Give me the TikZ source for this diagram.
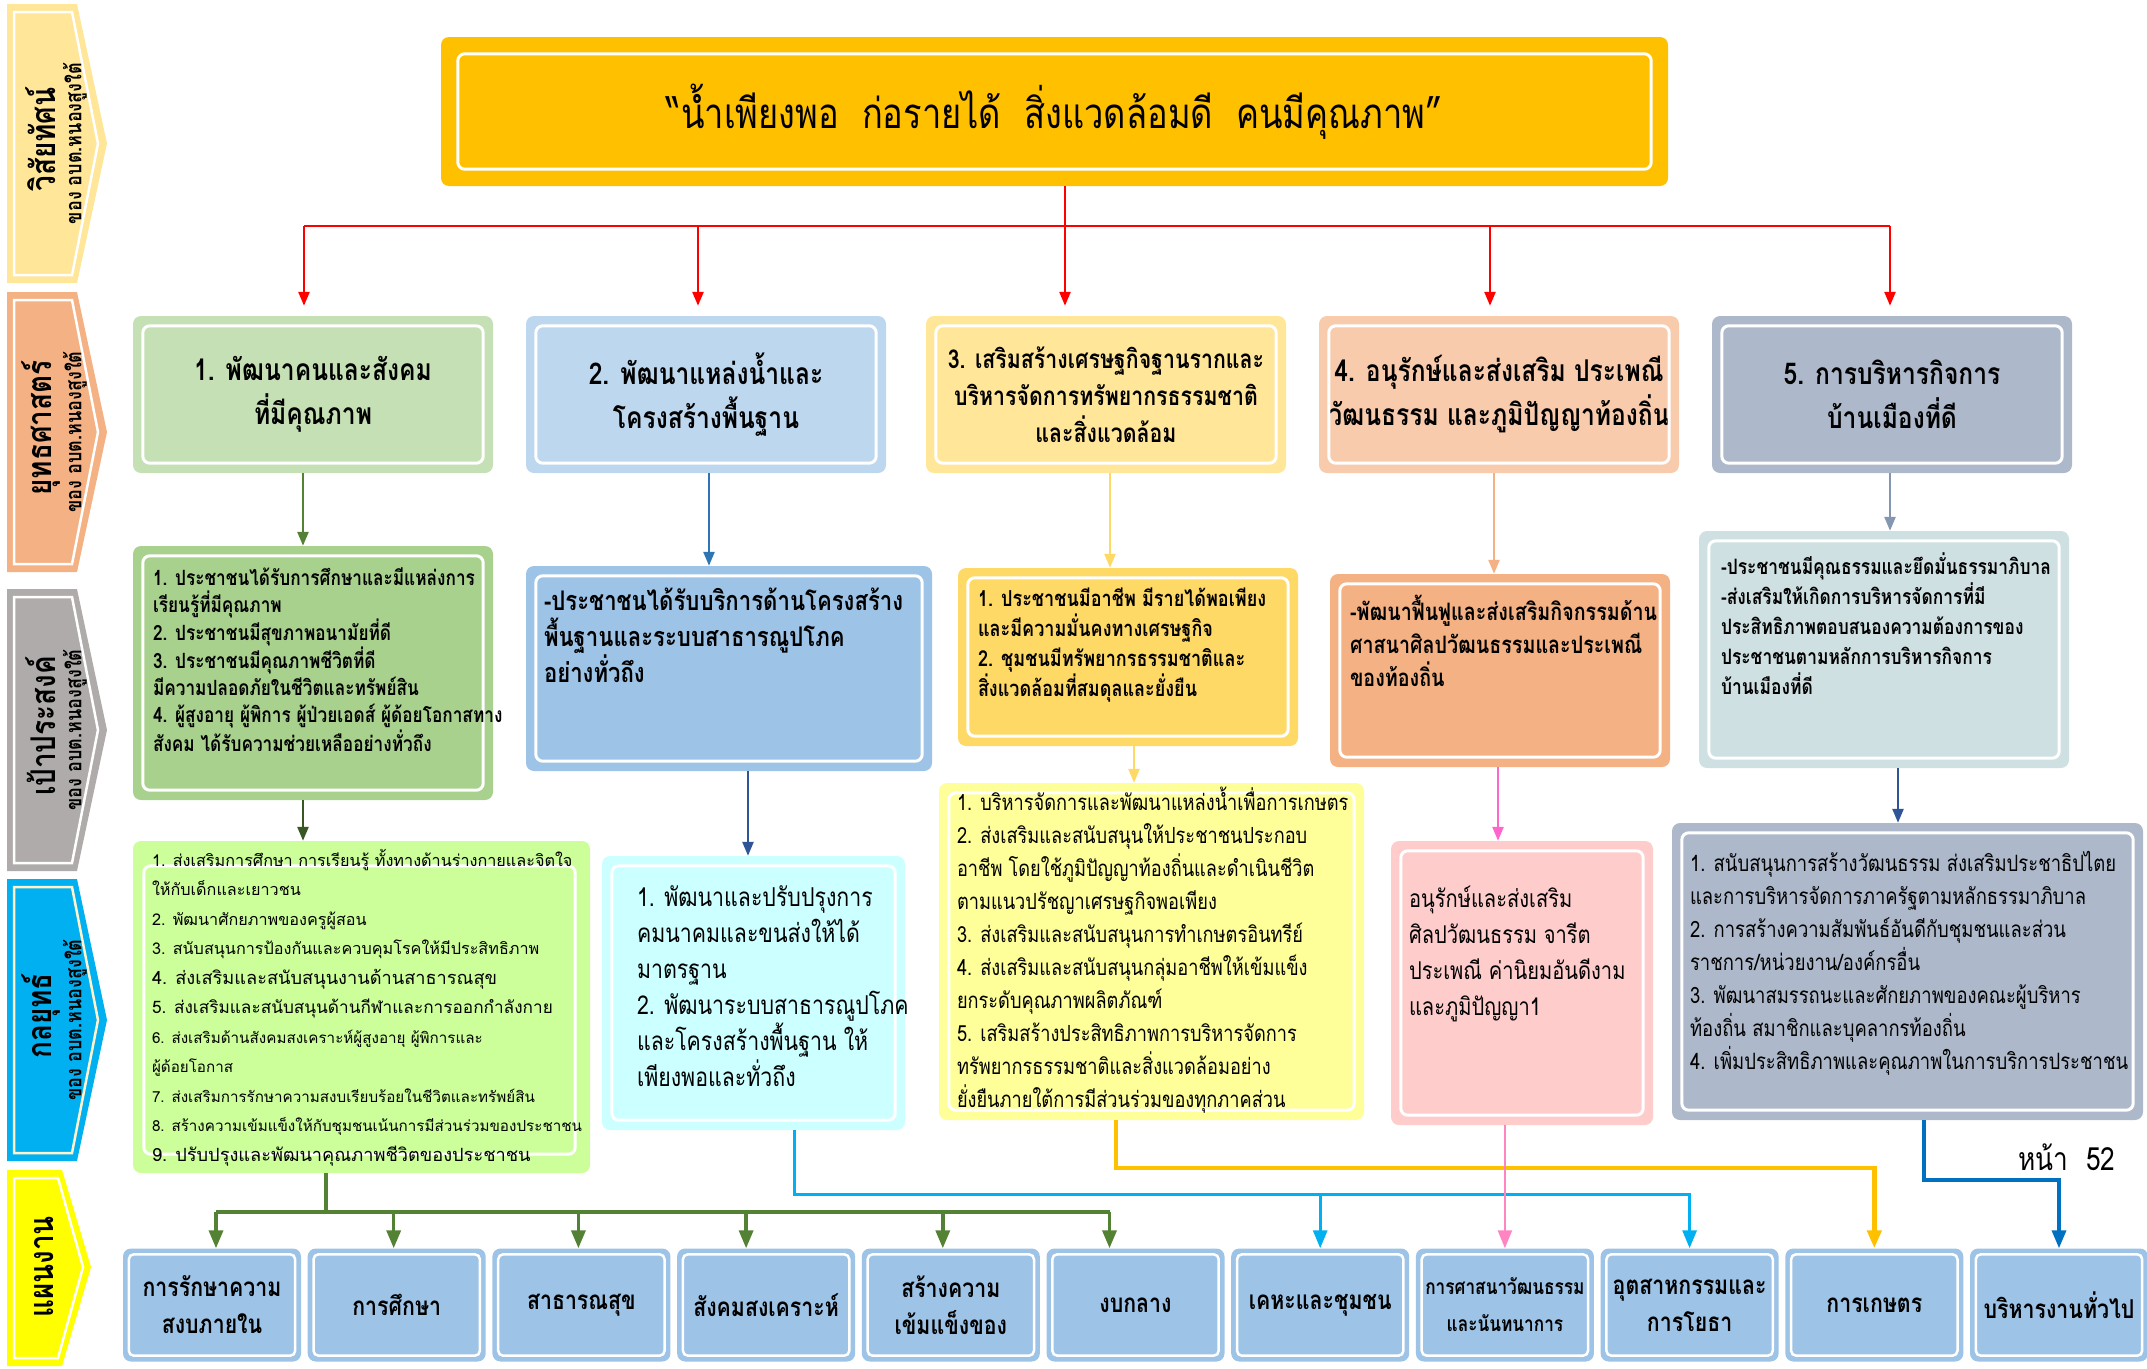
\documentclass[tikz,border=0pt]{standalone}
\usepackage{fontspec}
\setmainfont[Script=Thai]{Loma}
\newfontfamily\thainarrow[Script=Thai,FakeStretch=0.82]{Loma}
\usetikzlibrary{arrows.meta}

\definecolor{visionfill}{HTML}{FFC000}
\definecolor{tabA}{HTML}{FFE699}
\definecolor{tabB}{HTML}{F4B183}
\definecolor{tabC}{HTML}{AFABAB}
\definecolor{tabD}{HTML}{00B0F0}
\definecolor{tabE}{HTML}{FFFF00}
\definecolor{stratA}{HTML}{C5E0B4}
\definecolor{stratB}{HTML}{BDD7EE}
\definecolor{stratC}{HTML}{FFE699}
\definecolor{stratD}{HTML}{F8CBAD}
\definecolor{stratE}{HTML}{ADB9CA}
\definecolor{goalA}{HTML}{A9D18E}
\definecolor{goalB}{HTML}{9DC3E6}
\definecolor{goalC}{HTML}{FFD966}
\definecolor{goalD}{HTML}{F4B183}
\definecolor{goalE}{HTML}{CFE0E3}
\definecolor{tacA}{HTML}{CCFF99}
\definecolor{tacB}{HTML}{CCFFFF}
\definecolor{tacC}{HTML}{FFFF99}
\definecolor{tacD}{HTML}{FFCCCC}
\definecolor{tacE}{HTML}{ADB9CA}
\definecolor{planfill}{HTML}{9DC3E6}
\definecolor{lineA}{HTML}{548235}
\definecolor{lineAdark}{HTML}{385723}
\definecolor{lineB}{HTML}{2E75B6}
\definecolor{lineBdark}{HTML}{2F5597}
\definecolor{lineC}{HTML}{FFD966}
\definecolor{lineD}{HTML}{F4B183}
\definecolor{lineDpink}{HTML}{FF66CC}
\definecolor{lineE}{HTML}{8497B0}
\definecolor{busCyan}{HTML}{00B0F0}
\definecolor{busAmber}{HTML}{FFC000}
\definecolor{busPink}{HTML}{FF85C2}
\definecolor{busBlue}{HTML}{0070C0}
\definecolor{cream}{HTML}{FFF2CC}

\tikzset{
  panel/.style={rectangle, rounded corners=8pt, inner sep=0pt},
  inlay/.style={white, line width=3pt, rounded corners=7pt},
  drop/.style={line width=2.5pt, -{Triangle[length=14pt,width=11pt]}},
  busline/.style={line width=3.5pt},
  busdrop/.style={line width=3.5pt, -{Triangle[length=18pt,width=14pt]}},
  headtxt/.style={font=\thainarrow\bfseries\fontsize{30}{44}\selectfont, align=center},
  boxtxt/.style={inner sep=0pt, anchor=north west, align=left},
  plan/.style={panel, fill=planfill, minimum width=178pt, minimum height=113pt, align=center},
  sidebig/.style={rotate=90, font=\thainarrow\bfseries\fontsize{34}{40}\selectfont},
  sidesmall/.style={rotate=90, font=\thainarrow\bfseries\fontsize{22}{26}\selectfont},
}

\begin{document}
\begin{tikzpicture}[x=1pt, y=-1pt]
    \useasboundingbox (0,0) rectangle (2147,1368);

    % Side tabs
    \foreach \ya/\yb/\col/\rim/\word in {4/283/tabA/white/วิสัยทัศน์, 292/572/tabB/white/ยุทธศาสตร์, 589/871/tabC/white/เป้าประสงค์, 879/1161/tabD/cream/กลยุทธ์}{
        \pgfmathsetmacro\ym{(\ya+\yb)/2}
        \fill[\col] (7,\ya) -- (77,\ya) -- (107,\ym) -- (77,\yb) -- (7,\yb) -- cycle;
        \draw[\rim, line width=2.5pt] (14,\ya+8) -- (72,\ya+8) -- (98,\ym) -- (72,\yb-8) -- (14,\yb-8) -- cycle;
        \node[sidebig] (tab\ya) at (41,\ym-4) {\word};
        \node[sidesmall] (sub\ya) at (75,\ym) {ของ อบต.หนองสูงใต้};
    }
    \fill[tabE] (7,1170) -- (62,1170) -- (91,1267) -- (62,1366) -- (7,1366) -- cycle;
    \draw[white, line width=2.5pt] (14,1178) -- (58,1178) -- (83,1267) -- (58,1358) -- (14,1358) -- cycle;
    \node[sidebig] (tabplan) at (44,1267) {แผนงาน};

    % Vision
    \node[panel, fill=visionfill, minimum width=1227pt, minimum height=149pt,
          font=\thainarrow\fontsize{42}{50}\selectfont] (vision) at (1054.5,111.5)
          {“น้ำเพียงพอ~~ก่อรายได้~~สิ่งแวดล้อมดี~~คนมีคุณภาพ”};

    % Strategies
    \node[panel, fill=stratA, minimum width=360pt, minimum height=157pt, headtxt] (s1) at (313,394.5) {1. พัฒนาคนและสังคม\\ที่มีคุณภาพ};
    \node[panel, fill=stratB, minimum width=360pt, minimum height=157pt, headtxt] (s2) at (706,394.5) {2. พัฒนาแหล่งน้ำและ\\โครงสร้างพื้นฐาน};
    \node[panel, fill=stratC, minimum width=360pt, minimum height=157pt, headtxt,
          font=\thainarrow\bfseries\fontsize{26}{37}\selectfont] (s3) at (1106,394.5) {3. เสริมสร้างเศรษฐกิจฐานรากและ\\บริหารจัดการทรัพยากรธรรมชาติ\\และสิ่งแวดล้อม};
    \node[panel, fill=stratD, minimum width=360pt, minimum height=157pt, headtxt] (s4) at (1499,394.5) {4. อนุรักษ์และส่งเสริม ประเพณี\\วัฒนธรรม และภูมิปัญญาท้องถิ่น};
    \node[panel, fill=stratE, minimum width=360pt, minimum height=157pt, headtxt] (s5) at (1892,394.5) {5. การบริหารกิจการ\\บ้านเมืองที่ดี};

    % Goals
    \node[panel, fill=goalA, minimum width=360pt, minimum height=254pt] (g1) at (313,673) {};
    \node[panel, fill=goalB, minimum width=406pt, minimum height=205pt] (g2) at (729,668.5) {};
    \node[panel, fill=goalC, minimum width=340pt, minimum height=178pt] (g3) at (1128,657) {};
    \node[panel, fill=goalD, minimum width=340pt, minimum height=193pt] (g4) at (1500,670.5) {};
    \node[panel, fill=goalE, minimum width=370pt, minimum height=237pt] (g5) at (1884,649.5) {};

    % Tactics
    \node[panel, fill=tacA, minimum width=457pt, minimum height=332pt] (t1) at (361.5,1007) {};
    \node[panel, fill=tacB, minimum width=303pt, minimum height=274pt] (t2) at (753.5,993) {};
    \node[panel, fill=tacC, minimum width=425pt, minimum height=337pt] (t3) at (1151.5,951.5) {};
    \node[panel, fill=tacD, minimum width=262pt, minimum height=284pt] (t4) at (1522,983) {};
    \node[panel, fill=tacE, minimum width=471pt, minimum height=297pt] (t5) at (1907.5,971.5) {};

    % Plans
    \foreach \i/\fs/\txt in {1/26/{การรักษาความ\\สงบภายใน}, 2/26/การศึกษา, 3/26/สาธารณสุข, 4/26/สังคมสงเคราะห์, 5/26/{สร้างความ\\เข้มแข็งของ}, 6/26/งบกลาง, 7/26/เคหะและชุมชน, 8/21/{การศาสนาวัฒนธรรม\\และนันทนาการ}, 9/26/{อุตสาหกรรมและ\\การโยธา}, 10/26/การเกษตร, 11/26/บริหารงานทั่วไป}
        \node[plan, font=\thainarrow\bfseries\fontsize{\fs}{37}\selectfont] (p\i) at ({212+184.7*(\i-1)},1305) {\txt};

    % White inner rims
    \draw[inlay] ([shift={(17,-17)}]vision.south west) rectangle ([shift={(-17,17)}]vision.north east);
    \foreach \n in {s1,s2,s3,s4,s5,g1,g2,g3,g4,g5,t2,t3,t4,t5}
        \draw[inlay] ([shift={(10,-10)}]\n.south west) rectangle ([shift={(-10,10)}]\n.north east);
    \draw[inlay] ([shift={(11,-19)}]t1.south west) rectangle ([shift={(-15,25)}]t1.north east);
    \foreach \i in {1,...,11}
        \draw[inlay, line width=2.5pt, rounded corners=5pt] ([shift={(6,-6)}]p\i.south west) rectangle ([shift={(-6,6)}]p\i.north east);

    % Goal texts
    \node[boxtxt, font=\thainarrow\bfseries\fontsize{21}{27}\selectfont] (g1txt) at ([shift={(20,22)}]g1.north west)
        {1. ประชาชนได้รับการศึกษาและมีแหล่งการ\\เรียนรู้ที่มีคุณภาพ\\2. ประชาชนมีสุขภาพอนามัยที่ดี\\3. ประชาชนมีคุณภาพชีวิตที่ดี\\มีความปลอดภัยในชีวิตและทรัพย์สิน\\4. ผู้สูงอายุ ผู้พิการ ผู้ป่วยเอดส์ ผู้ด้อยโอกาสทาง\\สังคม ได้รับความช่วยเหลืออย่างทั่วถึง};
    \node[boxtxt, font=\thainarrow\bfseries\fontsize{27}{36}\selectfont] (g2txt) at ([shift={(18,22)}]g2.north west)
        {-ประชาชนได้รับบริการด้านโครงสร้าง\\พื้นฐานและระบบสาธารณูปโภค\\อย่างทั่วถึง};
    \node[boxtxt, font=\thainarrow\bfseries\fontsize{22}{30}\selectfont] (g3txt) at ([shift={(20,20)}]g3.north west)
        {1. ประชาชนมีอาชีพ มีรายได้พอเพียง\\และมีความมั่นคงทางเศรษฐกิจ\\2. ชุมชนมีทรัพยากรธรรมชาติและ\\สิ่งแวดล้อมที่สมดุลและยั่งยืน};
    \node[boxtxt, font=\thainarrow\bfseries\fontsize{24}{33}\selectfont] (g4txt) at ([shift={(20,21)}]g4.north west)
        {-พัฒนาฟื้นฟูและส่งเสริมกิจกรรมด้าน\\ศาสนาศิลปวัฒนธรรมและประเพณี\\ของท้องถิ่น};
    \node[boxtxt, font=\thainarrow\bfseries\fontsize{21.2}{30}\selectfont] (g5txt) at ([shift={(22,22)}]g5.north west)
        {-ประชาชนมีคุณธรรมและยึดมั่นธรรมาภิบาล\\-ส่งเสริมให้เกิดการบริหารจัดการที่มี\\ประสิทธิภาพตอบสนองความต้องการของ\\ประชาชนตามหลักการบริหารกิจการ\\บ้านเมืองที่ดี};

    % Tactic texts
    \node[boxtxt, font=\fontsize{16.2}{29.5}\selectfont] (t1txt) at ([shift={(19,8)}]t1.north west)
        {1. ส่งเสริมการศึกษา การเรียนรู้ ทั้งทางด้านร่างกายและจิตใจ\\ให้กับเด็กและเยาวชน\\2. พัฒนาศักยภาพของครูผู้สอน\\3. สนับสนุนการป้องกันและควบคุมโรคให้มีประสิทธิภาพ\\{\fontsize{18.2}{29.5}\selectfont 4. ส่งเสริมและสนับสนุนงานด้านสาธารณสุข}\\{\fontsize{17.2}{29.5}\selectfont 5. ส่งเสริมและสนับสนุนด้านกีฬาและการออกกำลังกาย}\\{\fontsize{15.2}{29.5}\selectfont 6. ส่งเสริมด้านสังคมสงเคราะห์ผู้สูงอายุ ผู้พิการและ}\\{\fontsize{15.2}{29.5}\selectfont ผู้ด้อยโอกาส}\\{\fontsize{15.2}{29.5}\selectfont 7. ส่งเสริมการรักษาความสงบเรียบร้อยในชีวิตและทรัพย์สิน}\\{\fontsize{15.2}{29.5}\selectfont 8. สร้างความเข้มแข็งให้กับชุมชนเน้นการมีส่วนร่วมของประชาชน}\\{\fontsize{18.2}{29.5}\selectfont 9. ปรับปรุงและพัฒนาคุณภาพชีวิตของประชาชน}};
    \node[boxtxt, font=\thainarrow\fontsize{26}{36}\selectfont] (t2txt) at ([shift={(35,30)}]t2.north west)
        {1. พัฒนาและปรับปรุงการ\\คมนาคมและขนส่งให้ได้\\มาตรฐาน\\2. พัฒนาระบบสาธารณูปโภค\\และโครงสร้างพื้นฐาน ให้\\เพียงพอและทั่วถึง};
    \node[boxtxt, font=\thainarrow\fontsize{22.2}{33}\selectfont] (t3txt) at ([shift={(18,4)}]t3.north west)
        {1. บริหารจัดการและพัฒนาแหล่งน้ำเพื่อการเกษตร\\2. ส่งเสริมและสนับสนุนให้ประชาชนประกอบ\\อาชีพ โดยใช้ภูมิปัญญาท้องถิ่นและดำเนินชีวิต\\ตามแนวปรัชญาเศรษฐกิจพอเพียง\\3. ส่งเสริมและสนับสนุนการทำเกษตรอินทรีย์\\4. ส่งเสริมและสนับสนุนกลุ่มอาชีพให้เข้มแข็ง\\ยกระดับคุณภาพผลิตภัณฑ์\\5. เสริมสร้างประสิทธิภาพการบริหารจัดการ\\ทรัพยากรธรรมชาติและสิ่งแวดล้อมอย่าง\\ยั่งยืนภายใต้การมีส่วนร่วมของทุกภาคส่วน};
    \node[boxtxt, font=\thainarrow\fontsize{24.5}{36}\selectfont] (t4txt) at ([shift={(18,45)}]t4.north west)
        {อนุรักษ์และส่งเสริม\\ศิลปวัฒนธรรม จารีต\\ประเพณี ค่านิยมอันดีงาม\\และภูมิปัญญา1};
    \node[boxtxt, font=\thainarrow\fontsize{22.5}{33}\selectfont] (t5txt) at ([shift={(18,28)}]t5.north west)
        {1. สนับสนุนการสร้างวัฒนธรรม ส่งเสริมประชาธิปไตย\\และการบริหารจัดการภาครัฐตามหลักธรรมาภิบาล\\2. การสร้างความสัมพันธ์อันดีกับชุมชนและส่วน\\ราชการ/หน่วยงาน/องค์กรอื่น\\3. พัฒนาสมรรถนะและศักยภาพของคณะผู้บริหาร\\ท้องถิ่น สมาชิกและบุคลากรท้องถิ่น\\4. เพิ่มประสิทธิภาพและคุณภาพในการบริการประชาชน};

    \node[font=\thainarrow\fontsize{32}{36}\selectfont] (pageno) at (2067,1157) {หน้า~~52};

    % Vision to strategies
    \coordinate (fork) at (1065,226);
    \draw[red, line width=2.5pt] (vision.south -| fork) -- (fork);
    \draw[red, line width=2.5pt] ([xshift=-9pt]s1.north |- fork) -- ([xshift=-2pt]s5.north |- fork);
    \foreach \n/\dx in {s1/-9, s2/-8, s3/-41, s4/-9, s5/-2}
        \draw[drop, red] ([xshift=\dx pt]\n.north |- fork) -- ([xshift=\dx pt, yshift=10pt]\n.north);

    % Strategies to goals, goals to tactics
    \foreach \a/\b/\dx/\col in {s1/g1/-10/lineA, s2/g2/3/lineB, s3/g3/4/lineC, s4/g4/-5/lineD, s5/g5/-2/lineE,
                                g1/t1/-10/lineAdark, g2/t2/19/lineBdark, g3/t3/6/lineC, g4/t4/-2/lineDpink, g5/t5/14/lineBdark}
        \draw[drop, \col] ([xshift=\dx pt]\a.south) -- ([xshift=\dx pt]\a.south |- \b.north);

    % Tactics to plans
    \coordinate (busA) at (326,1212);
    \draw[busline, lineA] (t1.south -| busA) -- (busA);
    \draw[busline, lineA] ([xshift=4pt]p1.north |- busA) -- ([xshift=-26pt]p6.north |- busA);
    \foreach \n/\dx in {p1/4, p2/-3, p3/-3, p4/-20, p5/-8, p6/-26}
        \draw[busdrop, lineA] ([xshift=\dx pt]\n.north |- busA) -- ([xshift=\dx pt]\n.north);

    \coordinate (busB) at (794,1194);
    \draw[busdrop, busCyan, line width=3pt] (t2.south -| busB) -- (busB) -| (p9.north);
    \draw[busdrop, busCyan, line width=3pt] (p7.north |- busB) -- (p7.north);

    \coordinate (busC) at (1116,1168);
    \draw[busdrop, busAmber, line width=4.5pt] (t3.south -| busC) -- (busC) -| (p10.north);

    \draw[busdrop, busPink, line width=2.5pt] (t4.south -| p8.north) -- (p8.north);

    \coordinate (busD) at (1924,1180);
    \draw[busdrop, busBlue] (t5.south -| busD) -- (busD) -| (p11.north);
\end{tikzpicture}
\end{document}
